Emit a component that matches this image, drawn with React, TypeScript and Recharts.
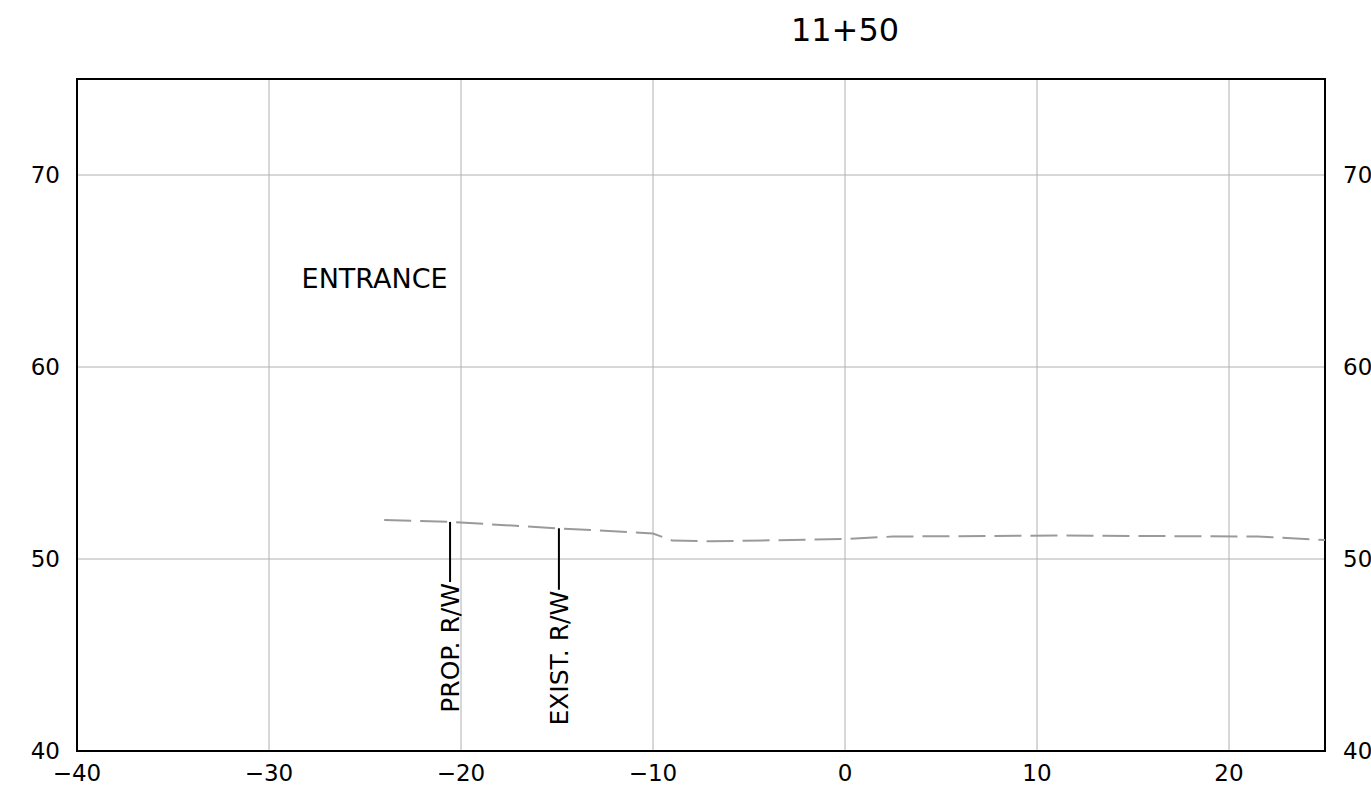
import {
  LineChart,
  Line,
  XAxis,
  YAxis,
  CartesianGrid,
  ReferenceArea,
  ReferenceLine,
  ReferenceDot,
} from "recharts";

// ground profile, offset (ft) vs elevation
const offsets = [-24, -20.5, -15, -10, -9, -7, 0, 2.5, 11, 21.5, 25];
const elevations = [52.03, 51.93, 51.6, 51.33, 50.96, 50.92, 51.04, 51.17, 51.22, 51.17, 50.99];

const xTicks = [-40, -30, -20, -10, 0, 10, 20];
const yTicks = [40, 50, 60, 70];

// right of way markers
const rwNames = ["PROP. R/W", "EXIST. R/W"];
const rwOffsets = [-20.57, -14.9];
const rwTops = [51.93, 51.6];
const rwBottoms = [48.8, 48.4];

const title = "11+50";
const noteText = "ENTRANCE";

const data = offsets.map((x, i) => ({ x, y: elevations[i] }));

const FONT = "'DejaVu Sans', sans-serif";
const fmt = (v: number) => (v < 0 ? "\u2212" + Math.abs(v) : String(v));

const RwLabel = (props: any) => {
  const vb = props.viewBox;
  const cx = vb.x;
  const by = vb.y + vb.height + 1;
  return (
    <text
      x={cx}
      y={by}
      transform={`rotate(-90 ${cx} ${by})`}
      textAnchor="end"
      dy="0.36em"
      fontSize={25}
      fontFamily={FONT}
      fill="#000"
    >
      {props.value}
    </text>
  );
};

export default function App() {
  return (
    <div style={{ position: "absolute", left: 0, top: 0, background: "#fff" }}>
      <LineChart
        width={1371}
        height={803}
        data={data}
        margin={{ top: 79, right: 0, left: 0, bottom: 0 }}
      >
        <CartesianGrid yAxisId="left" stroke="#b0b0b0" strokeWidth={1} />
        <XAxis
          dataKey="x"
          type="number"
          domain={[-40, 25]}
          ticks={xTicks}
          tickFormatter={fmt}
          axisLine={false}
          tickLine={false}
          tickSize={0}
          tickMargin={14}
          height={52}
          tick={{ fill: "#000", fontSize: 23, fontFamily: FONT }}
          allowDataOverflow
        />
        <YAxis
          yAxisId="left"
          type="number"
          domain={[40, 75]}
          ticks={yTicks}
          axisLine={false}
          tickLine={false}
          tickSize={0}
          tickMargin={17}
          width={77}
          tick={{ fill: "#000", fontSize: 23, fontFamily: FONT }}
          allowDataOverflow
        />
        <YAxis
          yAxisId="right"
          orientation="right"
          type="number"
          domain={[40, 75]}
          ticks={yTicks}
          axisLine={false}
          tickLine={false}
          tickSize={0}
          tickMargin={18}
          width={46}
          tick={{ fill: "#000", fontSize: 23, fontFamily: FONT, textAnchor: "start" }}
          allowDataOverflow
        />
        <ReferenceArea
          yAxisId="left"
          x1={-40}
          x2={25}
          y1={40}
          y2={75}
          fill="none"
          stroke="#000"
          strokeWidth={2}
          ifOverflow="visible"
        />
        <Line
          yAxisId="left"
          dataKey="y"
          type="linear"
          stroke="#9a9a9a"
          strokeWidth={2}
          strokeDasharray="27 9"
          dot={false}
          activeDot={false}
          isAnimationActive={false}
        />
        {rwNames.map((name, i) => (
          <ReferenceLine
            key={name}
            yAxisId="left"
            segment={[
              { x: rwOffsets[i], y: rwTops[i] },
              { x: rwOffsets[i], y: rwBottoms[i] },
            ]}
            stroke="#000"
            strokeWidth={2}
            label={<RwLabel value={name} />}
          />
        ))}
        <ReferenceDot
          yAxisId="left"
          x={-24.5}
          y={64.6}
          r={0}
          ifOverflow="visible"
          label={{ value: noteText, position: "center", fontSize: 27, fontFamily: FONT, fill: "#000" }}
        />
        <ReferenceDot
          yAxisId="left"
          x={0}
          y={77.55}
          r={0}
          ifOverflow="visible"
          label={{ value: title, position: "center", fontSize: 32, fontFamily: FONT, fill: "#000" }}
        />
      </LineChart>
    </div>
  );
}
